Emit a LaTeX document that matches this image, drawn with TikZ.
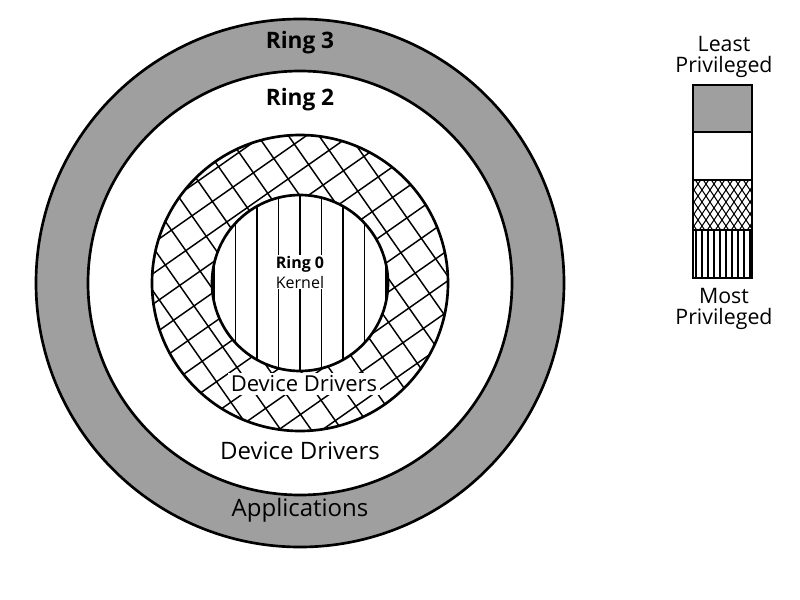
\documentclass[tikz,border=0pt]{standalone}
\usepackage{fontspec}
\setmainfont{Open Sans}
\begin{document}
\begin{tikzpicture}[x=0.75pt,y=-0.75pt,
  ln/.style={line width=1.3pt},
  hl/.style={line width=1.1pt},
  big/.style={font=\fontsize{18}{19}\selectfont},
  bigb/.style={font=\fontsize{17}{18}\selectfont\bfseries}]
\useasboundingbox (0,0) rectangle (800,600);
\coordinate (c) at (300,283);
% rings
\fill[gray!75] (c) circle[radius=264];
\draw[line width=2pt] (c) circle[radius=264];
\fill[white] (c) circle[radius=212];
\draw[line width=2pt] (c) circle[radius=212];
% ring1 crosshatch
\begin{scope}
\clip (c) circle[radius=148];
\begin{scope}[shift={(300,283)},rotate=35]
\foreach \i in {-7,...,7} {
  \draw[hl] (\i*25,-200) -- (\i*25,200);
  \draw[hl] (-200,\i*25+8) -- (200,\i*25+8);
}
\end{scope}
\end{scope}
\node[fill=white,inner sep=2pt,font=\fontsize{16.5}{18}\selectfont] (dd1) at (304,384) {Device Drivers};
\draw[line width=2pt] (c) circle[radius=148];
% ring0
\fill[white] (c) circle[radius=88];
\begin{scope}
\clip (c) circle[radius=88];
\foreach \i in {-4,...,4} \draw[line width=1pt] (300+\i*21.5,180) -- (300+\i*21.5,380);
\end{scope}
\node[fill=white,inner sep=1pt,align=center,font=\fontsize{12}{15}\selectfont,minimum width=48pt] (k) at (300,272) {\textbf{Ring 0}\\Kernel};
\draw[line width=2pt] (c) circle[radius=88];
% labels
\node[bigb] (r3) at (300,43) {Ring 3};
\node[bigb] (r2) at (300,100) {Ring 2};
\node[big] (dd2) at (300,451) {Device Drivers};
\node[big] (app) at (300,510) {Applications};
% legend
\fill[gray!75] (693,85) rectangle (752,132);
\begin{scope}
\clip (693,180) rectangle (752,230);
\foreach \i in {-10,...,10} {
  \draw[line width=0.8pt] (722+\i*8,160) -- (722+\i*8+60,250);
  \draw[line width=0.8pt] (722+\i*8,160) -- (722+\i*8-60,250);
}
\end{scope}
\foreach \i in {0,...,9} \draw[line width=0.8pt] (696+\i*6,230) -- (696+\i*6,278);
\draw[line width=1.3pt] (693,85) rectangle (752,278);
\draw[line width=1.3pt] (693,132) -- (752,132) (693,180) -- (752,180) (693,230) -- (752,230);
\node[align=center,inner sep=0pt,font=\fontsize{16}{16}\selectfont] (lp) at (724,57) {Least\\Privileged};
\node[align=center,inner sep=0pt,font=\fontsize{16}{16}\selectfont] (mp) at (724,309) {Most\\Privileged};
\end{tikzpicture}
\end{document}
